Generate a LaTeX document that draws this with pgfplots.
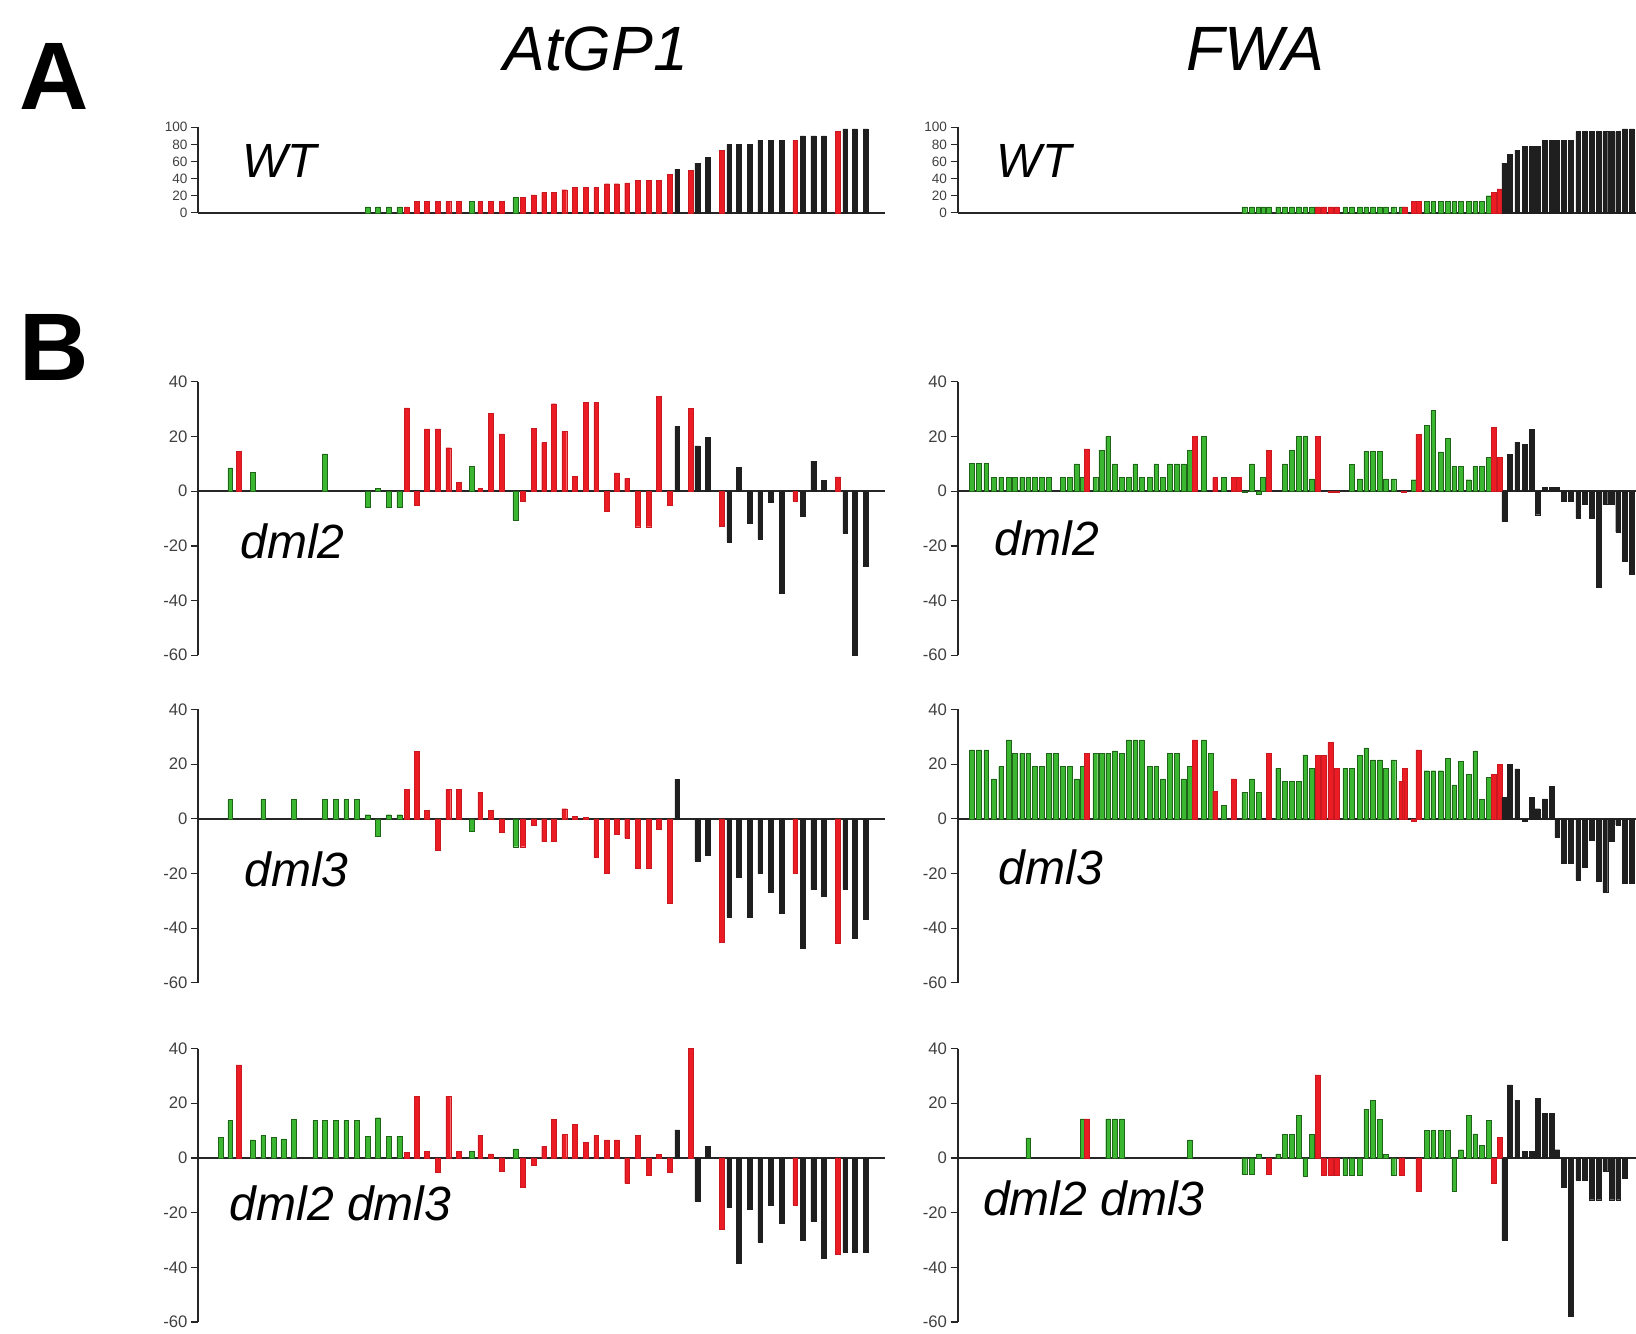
\documentclass[border=0pt]{standalone}
\usepackage{fontspec}
\setmainfont{Liberation Sans}
\usepackage{pgfplots}
\pgfplotsset{compat=1.18}

\definecolor{cgreen}{RGB}{58,182,48}
\definecolor{cred}{RGB}{236,28,36}

\pgfplotsset{
  panel/.style={scale only axis, anchor=south west, enlargelimits=false,
    axis x line=middle, axis y line=left,
    axis line style={-, line width=0.9pt, black!85},
    xtick=\empty, tick align=outside, major tick length=3.5pt,
    ytick style={line width=0.6pt, black!85},
    yticklabel style={font=\fontsize{8}{8}\selectfont, text=black!75, inner sep=1.5pt},
    /pgf/number format/assume math mode=true, clip=false},
  % AtGP1 column: 64.5 slots, FWA column: runs off the right edge
  gene1/.style={panel, xmin=0, xmax=64.5, width=328.95pt, bar width=0.45},
  gene2/.style={panel, xmin=0, xmax=100.2, width=325.2pt, bar width=0.72},
  wt/.style={ymin=0, ymax=100, height=41pt, ytick={0,20,...,100},
    yticklabel style={font=\fontsize{6.5}{6.5}\selectfont}},
  diff/.style={ymin=-60, ymax=40, height=131pt, ytick={-60,-40,...,40}},
  cg/.style={ybar, bar shift=0pt, fill=black!88, draw=black!88, line width=0.2pt},
  chg/.style={ybar, bar shift=0pt, fill=cred, draw=cred!85!black, line width=0.2pt},
  chh/.style={ybar, bar shift=0pt, fill=cgreen, draw=cgreen!55!black, line width=0.2pt},
}

\begin{document}
\begin{tikzpicture}
\path[use as bounding box] (0,0) rectangle (784pt,639pt);
\clip (0,0) rectangle (784pt,639pt);

\node[anchor=base west, inner sep=0, font=\fontsize{46}{46}\selectfont\bfseries] at (9pt,586.5pt) {A};
\node[anchor=base west, inner sep=0, font=\fontsize{46}{46}\selectfont\bfseries] at (9pt,456.5pt) {B};
\node[anchor=base, inner sep=0, font=\fontsize{30}{30}\selectfont\itshape] at (285.5pt,605pt) {AtGP1};
\node[anchor=base, inner sep=0, font=\fontsize{30}{30}\selectfont\itshape] at (601.75pt,605pt) {FWA};

% ---------------- AtGP1 ----------------
\begin{axis}[gene1, wt, at={(95pt,537pt)}]
\addplot[chh] coordinates {(15.9,7) (16.9,7) (17.9,7) (18.9,7) (25.7,13) (29.8,18)};
\addplot[chg] coordinates {(19.6,7) (20.5,13) (21.5,13) (22.5,13) (23.5,13) (24.5,13)
  (26.5,13) (27.5,13) (28.5,13) (30.5,18) (31.5,21) (32.5,24) (33.4,24) (34.4,27)
  (35.4,30) (36.4,30) (37.4,30) (38.4,34) (39.3,34) (40.3,35) (41.3,38) (42.3,38)
  (43.3,38) (44.3,45) (46.3,50) (49.2,73) (56.1,85) (60.1,95)};
\addplot[cg] coordinates {(45.0,51) (46.9,58) (47.9,65) (49.9,80) (50.8,80) (51.8,80)
  (52.8,85) (53.8,85) (54.8,85) (56.8,90) (57.8,90) (58.8,90) (60.8,98) (61.7,98) (62.7,98)};
\end{axis}

\begin{axis}[gene1, diff, at={(95pt,325pt)}]
\addplot[chh] coordinates {(3.0,8.5) (5.1,7) (11.9,13.7) (15.9,-5.9) (16.9,1) (17.9,-6)
  (18.9,-6) (25.7,9) (29.8,-10.5)};
\addplot[chg] coordinates {(3.8,14.6) (19.6,30.5) (20.5,-5) (21.5,22.8) (22.5,22.8)
  (23.5,15.9) (24.5,3.3) (26.5,1) (27.5,28.5) (28.5,21) (30.5,-3.5) (31.5,23) (32.5,17.8)
  (33.4,32) (34.4,21.8) (35.4,5.5) (36.4,32.5) (37.4,32.5) (38.4,-7.4) (39.3,6.7)
  (40.3,4.7) (41.3,-13) (42.3,-13) (43.3,34.6) (44.3,-5.3) (46.3,30.3) (49.2,-12.9)
  (56.1,-3.7) (60.1,5.2)};
\addplot[cg] coordinates {(45.0,23.6) (46.9,16.6) (47.9,19.6) (49.9,-18.6) (50.8,8.6)
  (51.8,-11.7) (52.8,-17.5) (53.8,-4) (54.8,-37.4) (56.8,-9.2) (57.8,11) (58.8,3.9)
  (60.8,-15.3) (61.7,-60) (62.7,-27.4)};
\end{axis}

\begin{axis}[gene1, diff, at={(95pt,168pt)}]
\addplot[chh] coordinates {(3.0,7) (6.1,7) (9.0,7) (11.9,7) (12.9,7) (13.9,7) (14.9,7)
  (15.9,1.5) (16.9,-6.5) (17.9,1.5) (18.9,1.5) (25.7,-4.7) (29.8,-10.2)};
\addplot[chg] coordinates {(19.6,10.7) (20.5,24.8) (21.5,3) (22.5,-11.4) (23.5,10.7)
  (24.5,10.7) (26.5,9.8) (27.5,3) (28.5,-4.9) (30.5,-10.2) (31.5,-2.2) (32.5,-8.3)
  (33.4,-8.3) (34.4,3.7) (35.4,0.9) (36.4,0.5) (37.4,-14.2) (38.4,-20) (39.3,-5.6)
  (40.3,-7.1) (41.3,-18.2) (42.3,-18.2) (43.3,-3.7) (44.3,-31) (49.2,-45) (56.1,-20)
  (60.1,-45.4)};
\addplot[cg] coordinates {(45.0,14.4) (46.9,-15.5) (47.9,-13.4) (49.9,-36) (50.8,-21.2)
  (51.8,-36) (52.8,-20) (53.8,-27) (54.8,-34.4) (56.8,-47.4) (57.8,-25.8) (58.8,-28.2)
  (60.8,-25.8) (61.7,-43.7) (62.7,-36.8)};
\end{axis}

\begin{axis}[gene1, diff, at={(95pt,5.5pt)}]
\addplot[chh] coordinates {(2.1,7.4) (3.0,13.7) (5.1,6.6) (6.1,8.2) (7.1,7.6) (8.0,7)
  (9.0,14.1) (11.0,13.7) (11.9,13.7) (12.9,13.7) (13.9,13.7) (14.9,13.7) (15.9,7.9)
  (16.9,14.7) (17.9,7.9) (18.9,7.9) (25.7,2.3) (29.8,3.3)};
\addplot[chg] coordinates {(3.8,34) (19.6,2) (20.5,22.6) (21.5,2.3) (22.5,-5.3)
  (23.5,22.6) (24.5,2.3) (26.5,8.2) (27.5,1.5) (28.5,-4.9) (30.5,-10.6) (31.5,-2.5)
  (32.5,4.2) (33.4,14) (34.4,8.5) (35.4,12.3) (36.4,5.8) (37.4,8.2) (38.4,6.6) (39.3,6.6)
  (40.3,-9.3) (41.3,8.2) (42.3,-6.5) (43.3,1.2) (44.3,-5.3) (46.3,40) (49.2,-26)
  (56.1,-17.2) (60.1,-35.3)};
\addplot[cg] coordinates {(45.0,10.3) (46.9,-15.7) (47.9,4.2) (49.9,-18.2) (50.8,-38.4)
  (51.8,-18.8) (52.8,-30.8) (53.8,-17.2) (54.8,-24) (56.8,-30) (57.8,-23) (58.8,-36.6)
  (60.8,-34.4) (61.7,-34.4) (62.7,-34.4)};
\end{axis}

% ---------------- FWA ----------------
\begin{axis}[gene2, wt, at={(459pt,537pt)}]
\addplot[chh] coordinates {(42.3,7) (43.4,7) (44.4,7) (45.0,7) (45.9,7) (47.3,7) (48.3,7)
  (49.3,7) (50.3,7) (51.3,7) (52.3,7) (57.2,7) (58.2,7) (59.3,7) (60.3,7) (61.3,7)
  (62.3,7) (63.2,7) (64.3,7) (65.5,7) (69.2,13) (70.2,13) (71.3,13) (72.3,13) (73.3,13)
  (74.3,13) (75.4,13) (76.4,13) (77.4,13) (78.4,20)};
\addplot[chg] coordinates {(53.1,7) (54.0,7) (55.0,7) (55.9,7) (66.0,7) (67.3,13)
  (68.0,13) (79.1,24) (80.0,28)};
\addplot[cg] coordinates {(80.7,58) (81.5,68) (82.6,73) (83.7,78) (84.7,78) (85.6,78)
  (86.7,85) (87.7,85) (88.5,85) (89.5,85) (90.5,85) (91.6,95) (92.6,95) (93.6,95)
  (94.6,95) (95.6,95) (96.6,95) (97.5,95) (98.5,98) (99.5,98)};
\end{axis}

\begin{axis}[gene2, diff, at={(459pt,325pt)}]
\addplot[chh] coordinates {(2.1,10.3) (3.1,10.3) (4.2,10.3) (5.3,5.1) (6.4,5.1) (7.5,5.1)
  (8.4,5.1) (9.5,5.1) (10.4,5.1) (11.4,5.1) (12.4,5.1) (13.4,5.1) (15.5,5) (16.5,5)
  (17.5,10) (18.4,5) (20.3,5) (21.2,15) (22.2,20) (23.2,10) (24.2,5) (25.2,5) (26.2,10)
  (27.1,5) (28.3,5) (29.3,10) (30.3,5) (31.3,10) (32.3,10) (33.3,10) (34.3,15) (36.3,20)
  (39.3,5) (42.3,-0.5) (43.4,10) (44.4,-1) (45.0,5) (48.3,10) (49.3,15) (50.3,20)
  (51.3,20) (52.3,4.5) (58.2,9.8) (59.3,4.5) (60.3,14.7) (61.3,14.7) (62.3,14.7)
  (63.2,4.5) (64.3,4.5) (67.3,4.2) (69.2,24.2) (70.2,29.5) (71.3,14.4) (72.3,19.3)
  (73.3,9.1) (74.3,9.1) (75.4,4.2) (76.4,9.1) (77.4,9.1) (78.4,12.5)};
\addplot[chg] coordinates {(19.0,15.5) (35.0,20) (38.0,5) (40.7,5) (41.5,5) (45.9,15)
  (53.1,20) (55.0,-0.5) (55.9,-0.5) (65.8,-0.5) (68.0,20.9) (79.1,23.3) (80.0,12.3)};
\addplot[cg] coordinates {(80.7,-11) (81.5,13.5) (82.6,18) (83.7,17.2) (84.7,22.6)
  (85.6,-8.6) (86.7,1.5) (87.7,1.5) (88.5,1.5) (89.5,-3.7) (90.5,-3.7) (91.6,-9.8)
  (92.6,-4.9) (93.6,-9.8) (94.6,-35) (95.6,-4.9) (96.6,-4.9) (97.5,-15) (98.5,-25.6)
  (99.5,-30.5)};
\end{axis}

\begin{axis}[gene2, diff, at={(459pt,168pt)}]
\addplot[chh] coordinates {(2.1,25.2) (3.1,25.2) (4.2,25.2) (5.3,14.6) (6.4,19.1)
  (7.5,28.9) (8.4,24) (9.5,24) (10.4,24) (11.4,19.1) (12.4,19.1) (13.4,24) (14.4,24)
  (15.5,19.1) (16.5,19.1) (17.5,14.6) (18.4,19.1) (20.3,24) (21.2,24) (22.2,24)
  (23.2,24.9) (24.2,24) (25.2,28.9) (26.2,28.9) (27.1,28.9) (28.3,19.1) (29.3,19.1)
  (30.3,14.6) (31.3,24) (32.3,24) (33.3,14.6) (34.3,19.1) (36.3,28.9) (37.3,24)
  (39.3,4.9) (42.3,9.8) (43.4,14.6) (44.4,9.8) (47.3,18.5) (48.3,13.7) (49.3,13.7)
  (50.3,13.7) (51.3,23.4) (52.3,18.5) (57.2,18.5) (58.2,18.5) (59.3,23.2) (60.3,26)
  (61.3,21.6) (62.3,21.6) (63.2,18.5) (64.3,21.6) (69.2,17.6) (70.2,17.6) (71.3,17.6)
  (72.3,22.2) (73.3,12.4) (74.3,21) (75.4,16.3) (76.4,24.9) (77.4,7) (78.4,15.1)};
\addplot[chg] coordinates {(19.0,24) (35.0,28.9) (38.0,10) (40.7,14.6) (45.9,24)
  (53.1,23.2) (54.0,23.2) (55.0,28) (55.9,18.5) (65.5,13.7) (66.0,18.5) (67.3,-1)
  (68.0,25.2) (79.1,16.3) (80.0,20)};
\addplot[cg] coordinates {(80.7,7.8) (81.5,19.8) (82.6,18.3) (83.7,-1) (84.7,7.8)
  (85.6,3.7) (86.7,7.3) (87.7,11.8) (88.5,-6.8) (89.5,-16.2) (90.5,-16.2) (91.6,-22.3)
  (92.6,-17.8) (93.6,-8) (94.6,-22.7) (95.6,-26.8) (96.6,-8.3) (97.5,-2.2) (98.5,-23.5)
  (99.5,-23.5)};
\end{axis}

\begin{axis}[gene2, diff, at={(459pt,5.5pt)}]
\addplot[chh] coordinates {(10.4,7.3) (18.4,14.3) (22.2,14.3) (23.2,14.3) (24.2,14.3)
  (34.3,6.6) (42.3,-6.1) (43.4,-6.1) (44.4,1.5) (47.3,1.5) (48.3,8.5) (49.3,8.5)
  (50.3,15.6) (51.3,-6.7) (52.3,8.5) (57.2,-6.3) (58.2,-6.3) (59.3,-6.3) (60.3,17.8)
  (61.3,21.1) (62.3,14.1) (63.2,1.2) (64.3,-6.3) (69.2,10) (70.2,10) (71.3,10) (72.3,10)
  (73.3,-12.3) (74.3,3) (75.4,15.6) (76.4,8.8) (77.4,4.6) (78.4,13.7)};
\addplot[chg] coordinates {(19.0,14.3) (45.9,-6.1) (53.1,30.4) (54.0,-6.3) (55.0,-6.3)
  (55.9,-6.3) (65.5,-6.3) (68.0,-12.3) (79.1,-9.2) (80.0,7.6)};
\addplot[cg] coordinates {(80.7,-30) (81.5,26.7) (82.6,21.1) (83.7,2.5) (84.7,2.5)
  (85.6,21.8) (86.7,16.2) (87.7,16.2) (88.5,3) (89.5,-10.8) (90.5,-58) (91.6,-8)
  (92.6,-8) (93.6,-15.3) (94.6,-15.3) (95.6,-5) (96.6,-15.3) (97.5,-15.3) (98.5,-7.4)};
\end{axis}

% panel labels
\begin{scope}[every node/.style={anchor=base west, inner sep=0, font=\fontsize{23}{23}\selectfont\itshape}]
\node at (116pt,554pt) {WT};
\node at (477.5pt,554pt) {WT};
\node at (115pt,371.5pt) {dml2};
\node at (476.5pt,373pt) {dml2};
\node at (117pt,214pt) {dml3};
\node at (478.5pt,215pt) {dml3};
\node at (110pt,54pt) {dml2 dml3};
\node at (471pt,56.5pt) {dml2 dml3};
\end{scope}
\end{tikzpicture}
\end{document}
